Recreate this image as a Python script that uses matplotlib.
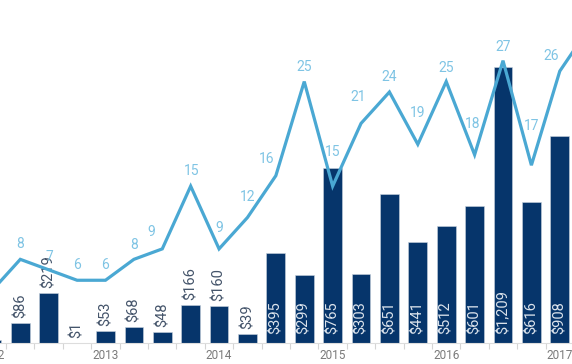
import matplotlib
matplotlib.use('Agg')
import matplotlib.pyplot as plt
import numpy as np

# quarterly data, 2012 Q1 .. 2017 Q2
quarters = [f"{y} Q{q}" for y in range(2012, 2018) for q in range(1, 5)][:22]
amounts = [12, 86, 219, 1, 53, 68, 48, 166, 160, 39, 395, 299,
           765, 303, 651, 441, 512, 601, 1209, 616, 908]
deals = [5, 8, 7, 6, 6, 8, 9, 15, 9, 12, 16, 25,
         15, 21, 24, 19, 25, 18, 27, 17, 26, 30]
year_ticks = ['2012', '2013', '2014', '2015', '2016', '2017']

# label placement tweaks for the line labels (pixels)
lbl_dx = [0, 0, 1, 0, 0, 0, -11, 1, 0, 0, -9, 0, 0, -3, 0, 0, 0, -2, 0, 0, -9, 0]
lbl_dy = [15, 15, 13, 15, 15, 14, 17, 15, 21, 21, 17, 15, 34, 26, 15, 31, 14, 31, 14, 39, 15, 15]

BAR = '#06356b'
LINE = '#4aa8d3'
LINE_TXT = '#7fc4e4'
FONT = ['Roboto', 'DejaVu Sans']

plt.rcParams['font.family'] = FONT

fig = plt.figure(figsize=(5.72, 3.64), dpi=100)
ax = fig.add_axes([0, 21 / 364, 1, 343 / 364])
ax2 = ax.twinx()

x = np.arange(len(deals))
xb = np.arange(len(amounts))

ax.bar(xb, amounts, width=0.66, color=BAR, edgecolor='#c9d3de', linewidth=0.4, zorder=2)
for i, v in enumerate(amounts):
    txt = f"${v:,}"
    if v >= 250:
        ax.annotate(txt, (i, 0), xytext=(0, 9), textcoords='offset pixels',
                    rotation=90, ha='center', va='bottom', fontsize=10.5,
                    color='#dbe3ec', zorder=3)
    else:
        ax.annotate(txt, (i, v), xytext=(0, 5), textcoords='offset pixels',
                    rotation=90, ha='center', va='bottom', fontsize=10.5,
                    color='#44546a', zorder=3)

ax2.plot(x, deals, color=LINE, linewidth=2.3, solid_joinstyle='miter', zorder=4)
for i, v in enumerate(deals):
    ax2.annotate(str(v), (i, v), xytext=(lbl_dx[i], lbl_dy[i]), textcoords='offset pixels',
                 ha='center', va='center', fontsize=10, color=LINE_TXT)

for a in (ax, ax2):
    a.set_autoscalex_on(False)
    a.set_xlim(0.285, 20.43)
ax.set_ylim(0, 1502)
ax2.set_ylim(0, 32.8)

for a in (ax, ax2):
    for s in a.spines.values():
        s.set_visible(False)
    a.set_yticks([])
ax.spines['bottom'].set_visible(True)
ax.spines['bottom'].set_color('#dddddd')
ax.spines['bottom'].set_linewidth(0.8)

# year labels drawn as text so the clipped 2012 still shows at the edge
ax.set_xticks([])
for k, yr in enumerate(year_ticks):
    ax.annotate(yr, (k * 4, 0), xycoords=('data', 'axes fraction'),
                xytext=(0, -6), textcoords='offset pixels', ha='center', va='top',
                fontsize=8.5, color='#7a7a7a', annotation_clip=False)
ax.set_xticks(np.arange(len(deals)) + 0.5, minor=True)
ax.tick_params(axis='x', which='minor', length=4, color='#d5d5d5', width=0.8)
ax2.set_zorder(ax.get_zorder() + 1)
ax2.patch.set_visible(False)
ax2.set_xlim(0.285, 20.43)

fig.savefig('out.png', dpi=100)
